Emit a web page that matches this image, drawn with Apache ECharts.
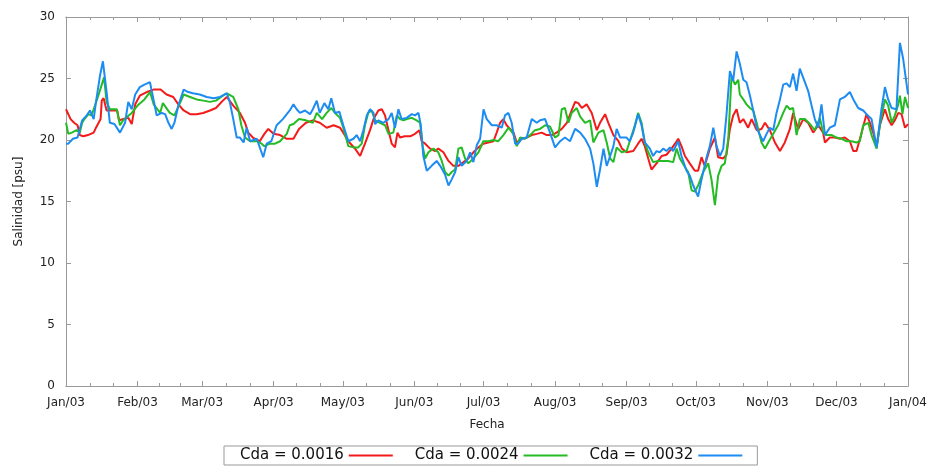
<!DOCTYPE html>
<html>
<head>
<meta charset="utf-8">
<script src="https://cdn.jsdelivr.net/npm/echarts@6/dist/echarts.min.js"></script>
<style>
  html, body { margin: 0; padding: 0; background: #ffffff; }
  #chart { width: 932px; height: 466px; }
</style>
</head>
<body>
<div id="chart"></div>
<script>
// Day-of-year positions of the month boundaries (2003) and their labels
const monthStarts = [0, 31, 59, 90, 120, 151, 181, 212, 243, 273, 304, 334, 365];
const monthLabels = ['Jan/03', 'Feb/03', 'Mar/03', 'Apr/03', 'May/03', 'Jun/03', 'Jul/03',
                     'Aug/03', 'Sep/03', 'Oct/03', 'Nov/03', 'Dec/03', 'Jan/04'];
const yTicks = [0, 5, 10, 15, 20, 25, 30];

const seriesNames = ['Cda = 0.0016', 'Cda = 0.0024', 'Cda = 0.0032'];

// Cda = 0.0016 : day of year / salinity (psu)
const redDays = [0, 2, 3.5, 5, 6, 7.5, 9.5, 12, 13, 15, 15.5, 16.3, 17.6, 20.5, 22.2, 23, 25, 27, 28.5, 30,
  32, 35, 38, 41, 43.6, 46.5, 48.7, 51, 53.8, 56.6, 59.5, 62.4, 65, 68, 69.7, 72.5, 75.4, 77.6, 79, 81,
  84, 86, 87.7, 90, 92.8, 95.7, 98.6, 101, 104, 107, 110, 113, 116, 118.8, 120.2, 122.4, 125.3, 127.5, 129.6, 131.8,
  133.3, 135.4, 136.9, 138.3, 139.8, 141.2, 142.6, 143.7, 144.8, 146.8, 149.2, 151.3, 153.2, 154.2, 155.7, 157.8, 160, 161.4, 163.6, 165.8,
  167.9, 170.1, 172.3, 174.4, 176.6, 178.8, 180.9, 183.1, 185.3, 186.7, 188.2, 189.6, 191, 192.5, 194, 195.4, 197.6, 199.7, 201.9, 204.1,
  206.2, 208.4, 210.6, 212.7, 214.9, 217.1, 219.2, 220.7, 222.1, 223.6, 225.7, 227.9, 230.1, 231.5, 233.7, 235.1, 237.3, 239.5, 241, 243,
  245.9, 248, 249.5, 250.9, 252.4, 253.8, 256, 258.2, 260.3, 262.5, 264, 265.4, 266.8, 268.3, 270.4, 272.6, 274, 275.5, 276.9, 279.1,
  281.3, 282.7, 284.9, 286.3, 287.8, 289.2, 290.7, 292.1, 293.6, 295.7, 297.2, 299.4, 301.5, 303, 305.1, 307.3, 309.5, 311.6, 313.8, 315.2,
  317.4, 319.6, 321.7, 323.9, 326.1, 328.2, 329, 331.1, 333.3, 335.5, 337.6, 339.8, 341.3, 342.7, 344.9, 347, 348.5, 349.9, 351.4, 352.8,
  355, 356.4, 357.9, 359.3, 360.8, 362.2, 363.7, 365];
const redVals = [22.5, 21.7, 21.4, 21.2, 20.4, 20.3, 20.4, 20.6, 21.0, 21.7, 23.2, 23.4, 22.4, 22.4, 22.4, 21.6, 21.7, 21.8, 21.3, 22.9,
  23.6, 23.9, 24.1, 24.1, 23.7, 23.5, 22.9, 22.4, 22.1, 22.1, 22.2, 22.4, 22.6, 23.2, 23.5, 22.8, 22.2, 21.4, 20.6, 20.2,
  19.9, 20.5, 20.9, 20.5, 20.4, 20.1, 20.1, 20.9, 21.4, 21.6, 21.4, 21.0, 21.2, 21.0, 20.6, 19.9, 19.3, 18.7, 19.7, 20.8,
  21.7, 22.4, 22.5, 22.0, 20.8, 19.7, 19.4, 20.6, 20.2, 20.3, 20.3, 20.5, 20.8, 19.9, 19.7, 19.3, 19.1, 19.3, 19.0, 18.3,
  17.9, 17.9, 18.2, 18.5, 19.0, 19.4, 19.7, 19.8, 19.9, 20.6, 21.4, 21.7, 21.2, 20.9, 20.6, 19.8, 20.1, 20.2, 20.4, 20.5,
  20.6, 20.4, 20.4, 20.6, 20.9, 21.4, 22.4, 23.1, 23.0, 22.6, 22.9, 22.2, 20.8, 21.4, 22.1, 21.4, 20.4, 19.9, 19.3, 19.0,
  19.1, 19.7, 20.1, 19.5, 18.5, 17.6, 18.1, 18.7, 18.8, 19.3, 19.7, 20.1, 19.5, 18.7, 18.1, 17.5, 17.5, 18.6, 17.9, 19.3,
  20.2, 18.6, 18.5, 18.8, 20.9, 22.0, 22.5, 21.4, 21.7, 21.0, 21.7, 20.8, 20.9, 21.4, 20.8, 19.8, 19.1, 19.8, 20.9, 22.2,
  20.9, 21.7, 21.4, 20.6, 21.2, 20.6, 19.8, 20.2, 20.2, 20.1, 20.2, 19.9, 19.1, 19.1, 20.6, 22.1, 21.4, 20.6, 19.5, 21.2,
  22.5, 21.7, 21.2, 21.6, 22.2, 22.1, 21.0, 21.3];

// Cda = 0.0024
const greenDays = [0, 1, 2.5, 4.6, 6, 7, 8, 9.7, 11, 12, 14, 15.5, 16.5, 17.6, 19, 22, 23.4, 24.8, 26, 28.5,
  31, 34, 36.4, 38, 40.8, 42, 45, 47, 49.4, 51, 53.8, 56.6, 59.5, 62.4, 65, 68, 69.7, 72.5, 74.7, 76,
  77.6, 79.8, 82.7, 84.8, 86, 88.4, 90.6, 92.8, 95.7, 97, 98.6, 101, 104, 107, 108.7, 111, 113, 115, 116.6, 118.8,
  120.2, 122.4, 124.6, 126.7, 128.2, 129.6, 131, 132.5, 134, 136.1, 138.3, 139.8, 141.9, 143.4, 144.8, 146.3, 147.7, 149.9, 152, 153.5,
  154.6, 155.7, 157.1, 159.3, 161.4, 162.9, 164.3, 165.8, 167.2, 168.7, 170.1, 171.5, 173, 174.4, 176.6, 178.8, 180.9, 183.1, 185.3, 187.4,
  189.6, 191.8, 193.9, 195.4, 196.8, 199, 201.2, 203.3, 205.5, 207.7, 209.8, 212, 213.5, 214.9, 216.3, 217.8, 219.2, 221.4, 222.9, 225,
  227.2, 228.6, 230.8, 233, 234.4, 235.9, 237.3, 238.7, 240.9, 243, 244.4, 246.6, 248, 249.5, 250.9, 252.4, 254.5, 256.7, 258.9, 261,
  263.2, 264.7, 266.1, 268.3, 269.7, 271.2, 272.6, 274, 276.2, 278.4, 279.8, 281.3, 282.7, 284.2, 285.6, 287.1, 288.5, 290, 291.4, 292.1,
  293.6, 295, 296.5, 297.9, 299.4, 301.5, 303, 304.4, 306.6, 308.7, 310.9, 312.4, 313.8, 315.2, 316.7, 318.1, 320.3, 322.5, 324.6, 326.8,
  328.2, 329.7, 332, 334, 336.2, 338.4, 340.5, 342.7, 344.1, 345.6, 347.8, 349.2, 351.4, 352.8, 355, 356.4, 357.9, 359.3, 360.8, 361.5,
  362.6, 363.7, 365];
const greenVals = [21.4, 20.5, 20.6, 20.8, 20.6, 21.4, 21.7, 22.1, 22.0, 22.5, 23.6, 24.5, 25.1, 23.1, 22.5, 22.5, 21.2, 21.6, 21.8, 22.2,
  22.8, 23.3, 23.9, 22.9, 22.2, 23.0, 22.2, 22.0, 23.0, 23.7, 23.5, 23.3, 23.2, 23.1, 23.2, 23.6, 23.8, 23.5, 22.5, 21.2,
  20.2, 19.9, 19.9, 19.7, 19.5, 19.7, 19.7, 19.9, 20.5, 21.2, 21.3, 21.7, 21.6, 21.4, 22.2, 21.7, 22.2, 22.6, 22.2, 21.8,
  21.0, 19.5, 19.4, 19.4, 19.7, 21.2, 22.2, 22.4, 21.6, 21.4, 21.2, 20.5, 20.6, 22.0, 21.7, 21.6, 21.7, 21.8, 21.6, 21.4,
  19.5, 18.5, 19.0, 19.3, 19.0, 18.3, 17.4, 17.1, 17.4, 17.6, 19.3, 19.4, 18.5, 18.1, 18.5, 19.0, 19.9, 19.9, 20.0, 19.9,
  20.4, 21.0, 20.5, 19.5, 20.2, 20.1, 20.4, 20.8, 20.9, 21.2, 21.1, 20.2, 20.4, 22.5, 22.6, 21.4, 22.2, 22.6, 21.9, 21.4,
  21.6, 19.8, 20.6, 20.8, 19.8, 18.5, 18.2, 19.4, 19.0, 19.1, 19.9, 21.2, 22.2, 21.4, 19.8, 19.0, 18.2, 18.3, 18.3, 18.3,
  18.2, 19.3, 18.5, 17.8, 17.4, 15.9, 15.8, 16.3, 17.4, 18.1, 16.8, 14.7, 17.1, 17.9, 18.1, 20.1, 25.2, 24.5, 24.9, 23.7,
  23.3, 22.9, 22.6, 22.4, 21.4, 19.8, 19.3, 19.8, 20.5, 21.2, 22.2, 22.8, 22.5, 22.6, 20.4, 21.7, 21.7, 21.3, 20.8, 21.8,
  20.6, 20.4, 20.4, 20.2, 20.1, 19.9, 19.9, 19.8, 19.9, 21.2, 21.4, 20.4, 19.3, 21.2, 23.3, 22.8, 21.4, 22.0, 22.9, 23.6,
  22.1, 23.5, 22.6];

// Cda = 0.0032
const blueDays = [0, 1, 3, 5, 7, 9, 10.4, 12, 13, 14.7, 16, 16.7, 17.6, 19, 21, 23.4, 25.6, 27, 28.5, 30,
  32, 34, 36.4, 37.6, 39.3, 41.5, 43, 44.4, 45.8, 47, 48.7, 51, 53, 55, 58, 61, 64, 66.8, 69.7, 71,
  72.5, 74, 75.4, 77, 78.3, 79.8, 82.7, 84, 85.5, 87, 89, 91.3, 94, 97, 98.6, 100, 101.4, 103.6, 105.8, 107,
  108.7, 110, 112, 113.7, 115, 116.6, 118.5, 120.2, 122.4, 124.6, 126, 127.5, 128.9, 130.4, 131.8, 133.3, 134, 135.4, 137.6, 139.8,
  141.2, 142.6, 144.1, 145.5, 147.7, 149.9, 151.3, 152.8, 153.8, 154.9, 156.4, 158.5, 160.7, 162.2, 164.3, 165.8, 167.2, 168.7, 170.1, 171.5,
  173.7, 175.2, 176.6, 178.1, 179.5, 181, 182.4, 184.6, 186.7, 188.9, 190.3, 191.8, 193.2, 194.7, 196, 197.6, 199.7, 201.9, 204.1, 205.5,
  207.7, 209.8, 212, 214.2, 216.3, 218.5, 220.7, 222.9, 225, 227.2, 228.6, 230.1, 231.5, 233, 234.4, 235.9, 237.3, 238.7, 240.2, 243,
  244.4, 245.9, 248, 249.5, 250.9, 253.1, 254.5, 256, 257.4, 258.9, 260.3, 261.8, 263.2, 265.4, 266.8, 269, 270.4, 271.9, 274, 275.5,
  277.7, 279.1, 280.6, 282, 283.5, 284.9, 286.3, 287.8, 289.2, 290.7, 292.1, 293.6, 295, 296.5, 297.9, 299.4, 300.8, 302.2, 303.7, 305.1,
  306.6, 308, 309.5, 310.9, 312.4, 313.8, 315.2, 316.7, 318.1, 320.3, 321.7, 323.2, 324.6, 326.1, 327.5, 329, 331.1, 333.3, 335.5, 337.6,
  339.8, 341.3, 343.4, 345.6, 347, 349.2, 351.4, 353.5, 355, 356.4, 357.9, 360, 361.5, 362.9, 365];
const blueVals = [19.7, 19.7, 20.1, 20.2, 21.6, 22.0, 22.4, 21.7, 23.1, 25.2, 26.4, 26.4, 23.9, 21.4, 21.3, 20.6, 21.4, 23.1, 22.5, 23.7,
  24.3, 24.5, 24.7, 23.6, 22.0, 22.2, 22.1, 21.4, 20.9, 21.4, 22.8, 24.1, 23.9, 23.8, 23.7, 23.5, 23.4, 23.5, 23.8, 23.1,
  21.7, 20.2, 20.2, 19.8, 21.0, 19.9, 20.1, 19.4, 18.6, 19.7, 19.9, 21.2, 21.7, 22.4, 22.9, 22.5, 22.2, 22.4, 22.1, 22.5,
  23.2, 22.2, 23.0, 22.5, 23.4, 22.2, 22.3, 21.2, 19.9, 20.1, 20.4, 19.9, 20.8, 22.0, 22.5, 22.2, 21.3, 21.6, 21.4, 21.7,
  22.2, 21.0, 22.5, 21.7, 21.8, 22.1, 22.0, 22.2, 21.2, 18.7, 17.5, 17.9, 18.3, 17.9, 17.2, 16.3, 16.8, 17.4, 18.6, 17.9,
  18.3, 19.0, 18.2, 19.6, 20.1, 22.5, 21.7, 21.2, 21.2, 21.0, 22.0, 22.2, 21.4, 19.7, 19.7, 20.1, 20.2, 21.7, 21.4, 21.6,
  21.7, 20.6, 19.4, 19.9, 20.2, 19.9, 20.9, 20.6, 20.1, 19.3, 18.1, 16.2, 17.6, 19.3, 17.9, 18.7, 19.5, 20.9, 20.2, 20.2,
  19.9, 20.6, 22.1, 21.2, 19.8, 19.3, 18.7, 19.1, 19.0, 19.3, 19.1, 19.4, 19.1, 19.9, 18.7, 17.5, 17.1, 16.3, 15.4, 16.8,
  18.6, 19.5, 21.0, 19.5, 18.7, 19.3, 22.0, 25.6, 24.8, 27.2, 26.2, 24.9, 24.7, 23.6, 22.4, 21.0, 20.4, 19.9, 20.5, 21.0,
  20.8, 22.2, 23.3, 24.5, 24.6, 24.3, 25.4, 24.0, 25.8, 24.7, 24.0, 22.8, 21.7, 21.0, 22.9, 20.4, 21.0, 21.2, 23.3, 23.5,
  23.9, 23.3, 22.6, 22.4, 22.1, 21.7, 19.4, 22.5, 24.3, 23.3, 22.6, 22.5, 27.9, 26.6, 23.7];

const seriesDays = [redDays, greenDays, blueDays];
const seriesVals = [redVals, greenVals, blueVals];
const seriesColors = ['#f41a1a', '#24bb24', '#1c8cf2'];

// minor ticks split every month into thirds
const minorTicks = [];
for (let i = 0; i < monthStarts.length - 1; i++) {
  const a = monthStarts[i], b = monthStarts[i + 1];
  minorTicks.push(a + (b - a) / 3, a + 2 * (b - a) / 3);
}

const FONT = 'DejaVu Sans';
const AXIS_GRAY = '#9a9a9a';

function xAxisDef(position, ticks, len, withLabels) {
  return {
    type: 'value', position: position, min: 0, max: 365,
    axisLine: { show: true, onZero: false, lineStyle: { color: AXIS_GRAY, width: 1 } },
    axisTick: { show: true, inside: true, length: len, customValues: ticks,
                lineStyle: { color: AXIS_GRAY, width: 1 } },
    axisLabel: withLabels ? {
      show: true, customValues: monthStarts, margin: 11,
      fontFamily: FONT, fontSize: 12, color: '#222',
      formatter: function (v) { return monthLabels[monthStarts.indexOf(Math.round(v))]; }
    } : { show: false },
    splitLine: { show: false }
  };
}

function yAxisDef(position, withLabels) {
  return {
    type: 'value', position: position, min: 0, max: 30, interval: 5,
    axisLine: { show: true, onZero: false, lineStyle: { color: AXIS_GRAY, width: 1 } },
    axisTick: { show: true, inside: true, length: 5, lineStyle: { color: AXIS_GRAY, width: 1 } },
    axisLabel: withLabels ? { show: true, margin: 11, fontFamily: FONT, fontSize: 12, color: '#222' } : { show: false },
    splitLine: { show: false }
  };
}

const xBottom = xAxisDef('bottom', monthStarts, 5, true);
xBottom.name = 'Fecha';
xBottom.nameLocation = 'middle';
xBottom.nameGap = 33;
xBottom.nameTextStyle = { fontFamily: FONT, fontSize: 12, color: '#222' };

const yLeft = yAxisDef('left', true);
yLeft.name = 'Salinidad [psu]';
yLeft.nameLocation = 'middle';
yLeft.nameGap = 41;
yLeft.nameTextStyle = { fontFamily: FONT, fontSize: 12, color: '#222' };

const chart = echarts.init(document.getElementById('chart'), null, { renderer: 'canvas' });
chart.setOption({
  animation: false,
  backgroundColor: '#ffffff',
  grid: { left: 66, right: 24, top: 17, bottom: 80, containLabel: false },
  xAxis: [
    xBottom,
    xAxisDef('bottom', minorTicks, 3, false),
    xAxisDef('top', monthStarts, 5, false),
    xAxisDef('top', minorTicks, 3, false)
  ],
  yAxis: [yLeft, yAxisDef('right', false)],
  legend: {
    data: seriesNames,
    left: 224, top: 446,
    align: 'right',
    icon: 'rect', itemWidth: 44, itemHeight: 2, itemGap: 22,
    padding: [2, 15, 2, 16],
    borderColor: '#999', borderWidth: 1, backgroundColor: '#fff',
    textStyle: { fontFamily: FONT, fontSize: 15, color: '#111' }
  },
  series: seriesNames.map(function (name, k) {
    return {
      name: name, type: 'line', xAxisIndex: 0, yAxisIndex: 0,
      showSymbol: false, smooth: false,
      lineStyle: { color: seriesColors[k], width: 2 },
      itemStyle: { color: seriesColors[k] },
      data: seriesDays[k].map(function (d, i) { return [d, seriesVals[k][i]]; })
    };
  })
});
</script>
</body>
</html>
